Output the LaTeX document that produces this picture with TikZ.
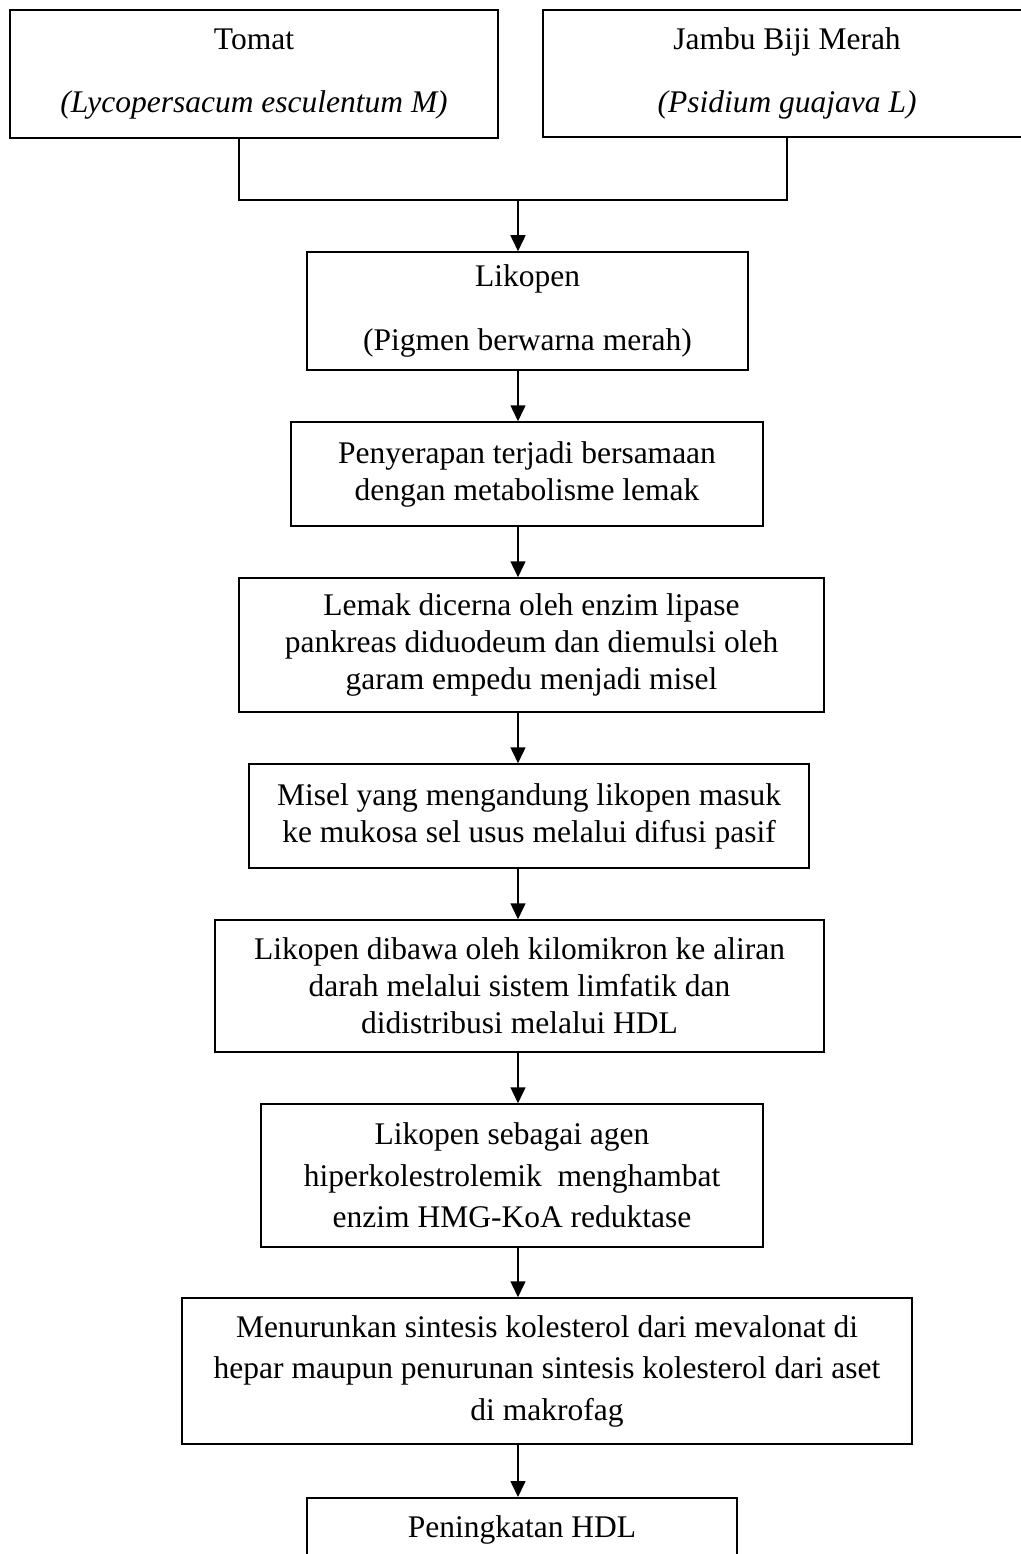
\documentclass[tikz,border=0pt]{standalone}
\usepackage{fontspec}
\setmainfont{Liberation Serif}
\usetikzlibrary{arrows.meta}

\begin{document}
\begin{tikzpicture}[x=1pt, y=-1pt, line width=1.5pt,
  box/.style={rectangle, draw, align=center, inner sep=0pt, font=\fontsize{31.5}{37}\selectfont},
  wide/.style={font=\fontsize{31.5}{41.5}\selectfont},
  flow/.style={-{Triangle[length=16pt, width=15pt]}}]
  \useasboundingbox (0,0) rectangle (1020,1554);

  \node[box, minimum width=488pt, minimum height=128pt] (tomat) at (254,74) {Tomat\\[26pt]\textit{(Lycopersacum esculentum M)}};
  \node[box, minimum width=488pt, minimum height=127pt] (jambu) at (787,73.5) {Jambu Biji Merah\\[26pt]\textit{(Psidium guajava L)}};
  \node[box, minimum width=441pt, minimum height=118pt] (likopen) at (527.5,311) {Likopen\\[27pt](Pigmen berwarna merah)};
  \node[box, minimum width=472pt, minimum height=104pt] (serap) at (527,474) {Penyerapan terjadi bersamaan\\dengan metabolisme lemak};
  \node[box, minimum width=585pt, minimum height=134pt] (lemak) at (531.5,645) {Lemak dicerna oleh enzim lipase\\pankreas diduodeum dan diemulsi oleh\\garam empedu menjadi misel};
  \node[box, minimum width=560pt, minimum height=104pt] (misel) at (529,816) {Misel yang mengandung likopen masuk\\ke mukosa sel usus melalui difusi pasif};
  \node[box, minimum width=609pt, minimum height=132pt] (dibawa) at (519.5,986) {Likopen dibawa oleh kilomikron ke aliran\\darah melalui sistem limfatik dan\\didistribusi melalui HDL};
  \node[box, wide, minimum width=502pt, minimum height=143pt] (sebagai) at (512,1175.5) {Likopen sebagai agen\\hiperkolestrolemik~ menghambat\\enzim HMG-KoA reduktase};
  \node[box, wide, minimum width=730pt, minimum height=146pt] (turun) at (547,1371) {Menurunkan sintesis kolesterol dari mevalonat di\\hepar maupun penurunan sintesis kolesterol dari aset\\di makrofag};
  \node[box, minimum width=430pt, text height=40pt, text depth=70pt, anchor=north] (hdl) at (522,1497) {Peningkatan HDL};

  \coordinate (jl) at (239,200);
  \coordinate (jr) at (787,200);
  \coordinate (jm) at (518,200);
  \draw (tomat.south -| jl) -- (jl) -- (jr) -- (jambu.south -| jr);
  \draw[flow] (jm) -- (likopen.north -| jm);
  \foreach \a/\b in {likopen/serap, serap/lemak, lemak/misel, misel/dibawa, dibawa/sebagai, sebagai/turun, turun/hdl}
    \draw[flow] (\a.south -| jm) -- (\b.north -| jm);
\end{tikzpicture}
\end{document}
